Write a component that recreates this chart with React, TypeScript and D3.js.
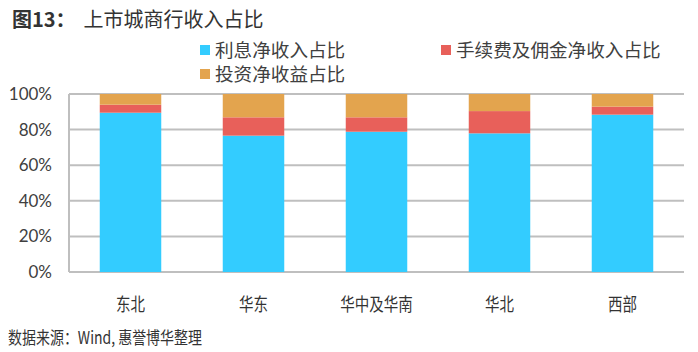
import React from "react";
import * as d3 from "d3";

const categories = ["东北", "华东", "华中及华南", "华北", "西部"];
const interestShare = [89.5, 76.6, 78.8, 77.9, 88.4];
const feeShare = [4.5, 10.3, 8.1, 12.5, 4.5];
const investShare = [6.0, 13.1, 13.1, 9.6, 7.1];
const yTicks = [0, 20, 40, 60, 80, 100];

const seriesNames = ["利息净收入占比", "手续费及佣金净收入占比", "投资净收益占比"];
const seriesKeys = ["interest", "fee", "invest"];
const colors = ["#33CCFF", "#E8605A", "#E3A44E"];

const width = 698;
const height = 352;
const margin = { top: 94, right: 14, bottom: 80, left: 69 };

const cjk = "'Noto Sans CJK SC', 'Noto Sans', sans-serif";

const App: React.FC = () => {
  const rows = categories.map((c, i) => ({
    category: c,
    interest: interestShare[i],
    fee: feeShare[i],
    invest: investShare[i],
  }));

  const stacked = d3.stack<any>().keys(seriesKeys)(rows);

  const x = d3
    .scaleBand()
    .domain(categories)
    .range([margin.left, width - margin.right])
    .paddingInner(0.5)
    .paddingOuter(0.25);

  const y = d3
    .scaleLinear()
    .domain([0, 100])
    .range([height - margin.bottom, margin.top]);

  // legend layout
  const legend = [
    { x: 200, y: 50 },
    { x: 441, y: 50 },
    { x: 200, y: 74 },
  ];

  return (
    <svg
      width={width}
      height={height}
      style={{ position: "absolute", left: 0, top: 0, background: "#fff" }}
    >
      <text x={12} y={27} fontFamily={cjk} fontSize={20} fill="#333">
        <tspan fontWeight="bold">图13：</tspan>
        <tspan dx={8}>上市城商行收入占比</tspan>
      </text>

      {legend.map((p, i) => (
        <g key={i}>
          <rect x={p.x} y={p.y - 5} width={10} height={10} fill={colors[i]} />
          <text
            x={p.x + 15}
            y={p.y + 6.5}
            fontFamily={cjk}
            fontSize={18}
            fill="#404040"
            textLength={seriesNames[i].length * 18.6}
            lengthAdjust="spacingAndGlyphs"
          >
            {seriesNames[i]}
          </text>
        </g>
      ))}

      {/* grid */}
      {yTicks.map((t) => (
        <line
          key={t}
          x1={margin.left}
          x2={width - margin.right}
          y1={y(t)}
          y2={y(t)}
          stroke="#BFBFBF"
          strokeWidth={2}
        />
      ))}
      <line
        x1={margin.left}
        x2={margin.left}
        y1={y(100)}
        y2={y(0)}
        stroke="#BFBFBF"
        strokeWidth={2}
      />

      {yTicks.map((t) => (
        <text
          key={t}
          x={52}
          y={y(t) + 6}
          textAnchor="end"
          fontFamily="Lato, sans-serif"
          fontSize={17}
          fill="#404040"
        >
          {t}%
        </text>
      ))}

      {stacked.map((layer, si) =>
        layer.map((d, i) => (
          <rect
            key={si + "-" + i}
            x={x(categories[i])!}
            width={x.bandwidth()}
            y={y(d[1])}
            height={y(d[0]) - y(d[1])}
            fill={colors[si]}
          />
        ))
      )}

      {categories.map((c) => (
        <text
          key={c}
          x={x(c)! + x.bandwidth() / 2}
          y={311}
          textAnchor="middle"
          fontFamily={cjk}
          fontSize={18}
          fill="#333"
          textLength={c.length * 14.5}
          lengthAdjust="spacingAndGlyphs"
        >
          {c}
        </text>
      ))}

      <text
        x={8}
        y={344}
        fontFamily={cjk}
        fontSize={17}
        fill="#333"
        textLength={194}
        lengthAdjust="spacingAndGlyphs"
      >
        数据来源：Wind, 惠誉博华整理
      </text>
    </svg>
  );
};

export default App;
